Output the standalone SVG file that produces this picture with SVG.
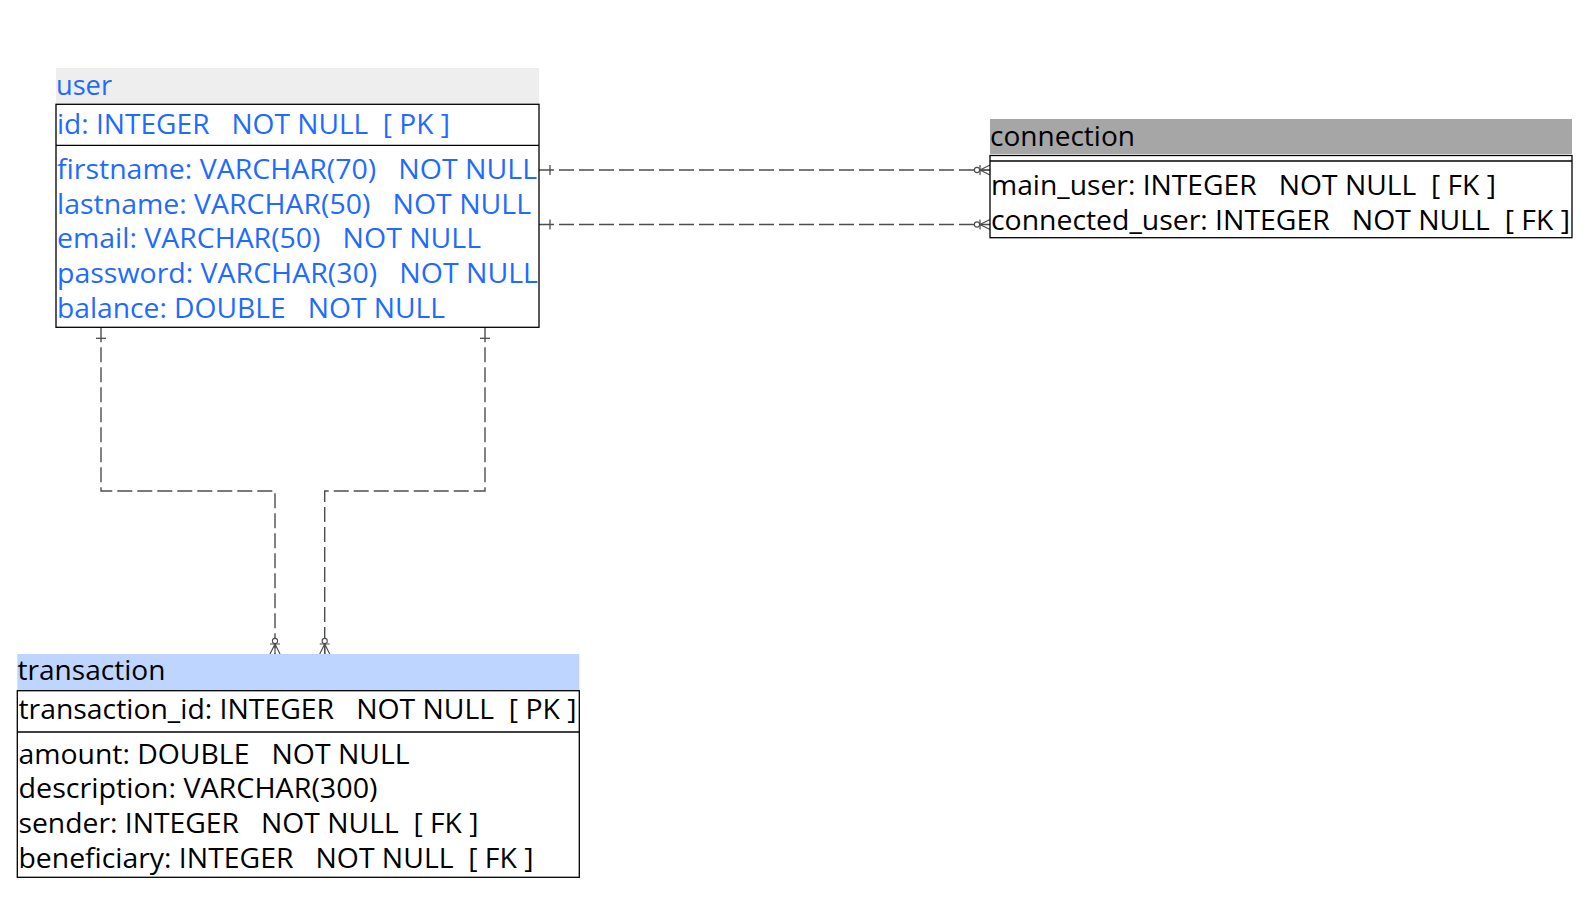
<svg xmlns="http://www.w3.org/2000/svg" width="1592" height="902" viewBox="0 0 1592 902" xml:space="preserve">
<style>
  text { font-family: "Open Sans", "Noto Sans", "DejaVu Sans", sans-serif; font-size: 28px; white-space: pre; }
  .blue { fill: #1f6bff; }
  .black { fill: #000000; }
  .box { fill: #ffffff; stroke: #000000; stroke-width: 1.3; }
  .sep { stroke: #000000; stroke-width: 1.3; fill: none; }
  .rel { fill: none; stroke: #4d4d4d; stroke-width: 1.4; stroke-dasharray: 15 5; marker-start: url(#one); marker-end: url(#many); }
</style>
<defs>
  <marker id="one" markerUnits="userSpaceOnUse" viewBox="-20 -10 30 20" markerWidth="30" markerHeight="20" refX="0" refY="0" orient="auto-start-reverse" overflow="visible">
    <path d="M-11,-5 V5" stroke="#4d4d4d" stroke-width="1.3" fill="none"/>
  </marker>
  <marker id="many" markerUnits="userSpaceOnUse" viewBox="-20 -10 30 20" markerWidth="30" markerHeight="20" refX="0" refY="0" orient="auto" overflow="visible">
    <path d="M-10,-5 V5 M-10,0 L0,-5 M-10,0 L0,0 M-10,0 L0,5" stroke="#4d4d4d" stroke-width="1.2" fill="none"/>
    <circle cx="-13" cy="0" r="2.6" fill="#ffffff" stroke="#4d4d4d" stroke-width="1.1"/>
  </marker>
</defs>
<rect width="1592" height="902" fill="#ffffff"/>

<g id="connectors">
  <path class="rel" d="M539,170 H990"/>
  <path class="rel" d="M539,224.5 H990"/>
  <path class="rel" d="M101,327.3 V491 H275 V654"/>
  <path class="rel" d="M485,327.3 V491 H324.7 V654"/>
</g>

<g id="user">
  <rect x="56" y="68" width="483" height="36" fill="#eeeeee"/>
  <text class="blue" x="56" y="95" textLength="56" lengthAdjust="spacingAndGlyphs">user</text>
  <rect class="box" x="56" y="104.3" width="483" height="223"/>
  <line class="sep" x1="56" y1="145.3" x2="539" y2="145.3"/>
  <text class="blue" x="57" y="134" textLength="393" lengthAdjust="spacingAndGlyphs">id: INTEGER   NOT NULL  [ PK ]</text>
  <text class="blue" x="57" y="178.5" textLength="480" lengthAdjust="spacingAndGlyphs">firstname: VARCHAR(70)   NOT NULL</text>
  <text class="blue" x="57" y="213.5" textLength="474" lengthAdjust="spacingAndGlyphs">lastname: VARCHAR(50)   NOT NULL</text>
  <text class="blue" x="57" y="248" textLength="424" lengthAdjust="spacingAndGlyphs">email: VARCHAR(50)   NOT NULL</text>
  <text class="blue" x="57" y="283" textLength="481" lengthAdjust="spacingAndGlyphs">password: VARCHAR(30)   NOT NULL</text>
  <text class="blue" x="57" y="318" textLength="388" lengthAdjust="spacingAndGlyphs">balance: DOUBLE   NOT NULL</text>
</g>

<g id="connection">
  <rect x="990" y="119" width="582" height="35" fill="#a6a6a6"/>
  <text class="black" x="990" y="146" textLength="145" lengthAdjust="spacingAndGlyphs">connection</text>
  <rect class="box" x="990" y="155.5" width="582" height="82.2"/>
  <line class="sep" x1="990" y1="161" x2="1572" y2="161"/>
  <text class="black" x="991" y="195" textLength="505" lengthAdjust="spacingAndGlyphs">main_user: INTEGER   NOT NULL  [ FK ]</text>
  <text class="black" x="991" y="229.5" textLength="579" lengthAdjust="spacingAndGlyphs">connected_user: INTEGER   NOT NULL  [ FK ]</text>
</g>

<g id="transaction">
  <rect x="17.3" y="654" width="562" height="36" fill="#bed6ff"/>
  <text class="black" x="17.5" y="680" textLength="148" lengthAdjust="spacingAndGlyphs">transaction</text>
  <rect class="box" x="17.3" y="690.7" width="562" height="186.6"/>
  <line class="sep" x1="17.3" y1="732" x2="579.3" y2="732"/>
  <text class="black" x="18.5" y="719" textLength="558" lengthAdjust="spacingAndGlyphs">transaction_id: INTEGER   NOT NULL  [ PK ]</text>
  <text class="black" x="18.5" y="763.5" textLength="391" lengthAdjust="spacingAndGlyphs">amount: DOUBLE   NOT NULL</text>
  <text class="black" x="18.5" y="798" textLength="359" lengthAdjust="spacingAndGlyphs">description: VARCHAR(300)</text>
  <text class="black" x="18.5" y="833" textLength="460" lengthAdjust="spacingAndGlyphs">sender: INTEGER   NOT NULL  [ FK ]</text>
  <text class="black" x="18.5" y="868" textLength="515" lengthAdjust="spacingAndGlyphs">beneficiary: INTEGER   NOT NULL  [ FK ]</text>
</g>
</svg>
